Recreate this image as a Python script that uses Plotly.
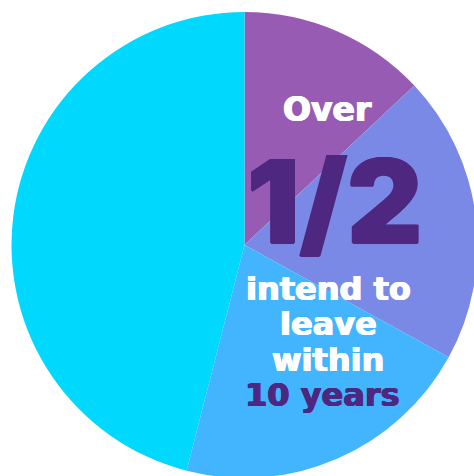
import plotly.graph_objects as go

# Data
segments = ["Segment A", "Segment B", "Segment C", "Segment D"]
shares = [13, 20, 21, 46]
colors = ["#985BB4", "#7B89E6", "#43B5FE", "#00D8FE"]

W, H = 480, 480
CX, CY, R = 244.5, 245, 233  # pixel center / radius

fig = go.Figure(go.Pie(
    labels=segments,
    values=shares,
    sort=False,
    direction="clockwise",
    rotation=0,
    marker=dict(colors=colors, line=dict(width=0)),
    textinfo="none",
    hoverinfo="label+percent",
    domain=dict(x=[(CX - R) / W, (CX + R) / W],
                y=[(H - CY - R) / H, (H - CY + R) / H]),
    showlegend=False,
))

WHITE = "#FFFFFF"
DARK = "#4E2780"

def ann(text, px, py, size, color, family="DejaVu Sans", weight="bold", thick=0.7):
    sh = f"{thick}px 0 0 {color}, -{thick}px 0 0 {color}, 0 {thick/2}px 0 {color}"
    fig.add_annotation(text=text, x=px / W, y=1 - py / H, xref="paper", yref="paper",
                       xanchor="center", yanchor="middle", showarrow=False,
                       font=dict(family=family, size=size, color=color, weight=weight,
                                 shadow=sh))

ann("Over", 327.5, 110, 33, WHITE)
ann("1/2", 334, 201, 116, DARK, family="Inter", weight=900, thick=1.0)
ann("intend to", 328, 289, 32, WHITE)
ann("leave", 328.5, 324, 32, WHITE)
ann("within", 328, 359.5, 32, WHITE)
ann("10 years", 322.5, 395, 32, DARK)

fig.update_layout(width=W, height=H, margin=dict(l=0, r=0, t=0, b=0),
                  paper_bgcolor="white", plot_bgcolor="white")

fig.write_html("out.html", config={"displayModeBar": False},
               post_script="document.body.style.margin='0';document.body.style.overflow='hidden';")
